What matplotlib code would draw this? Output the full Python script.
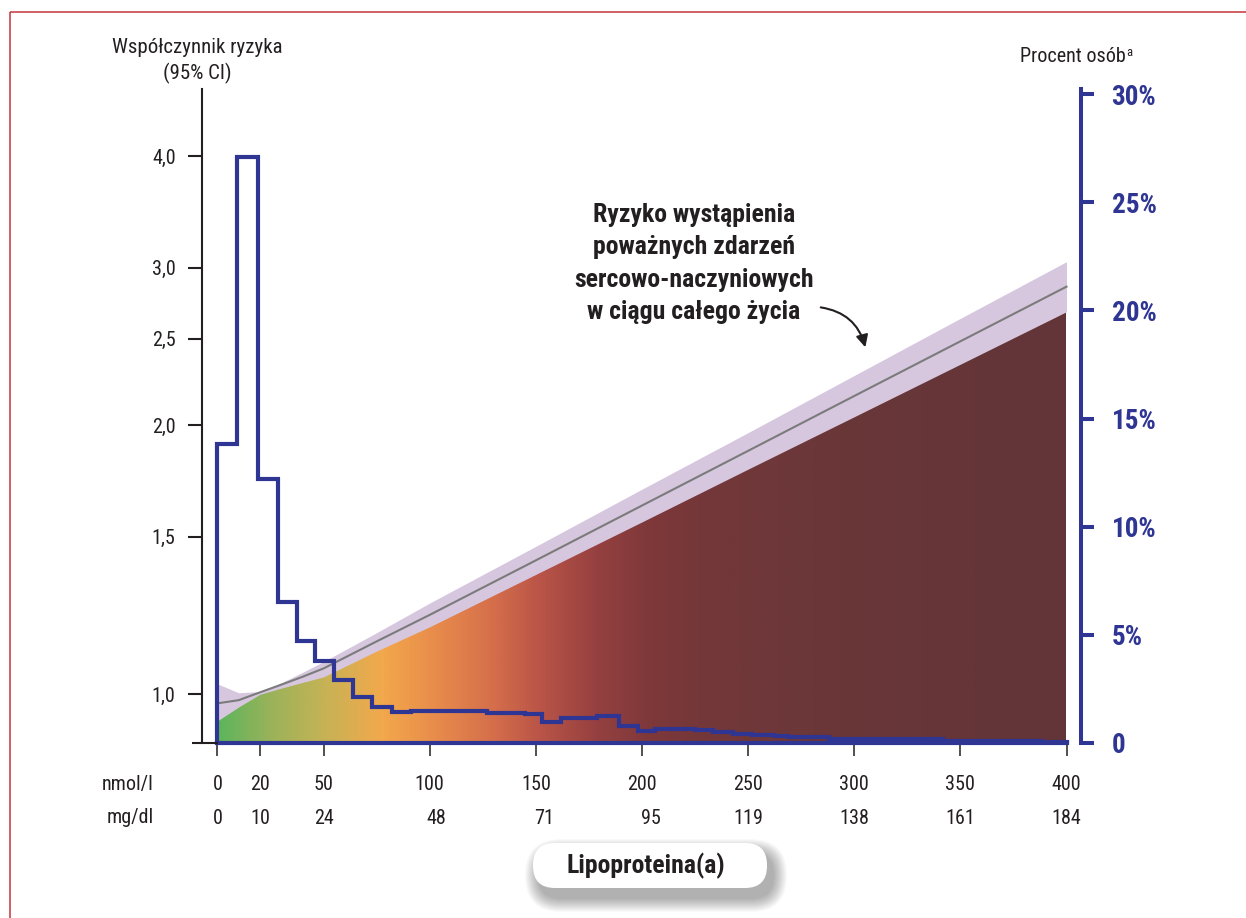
import numpy as np
import matplotlib
matplotlib.use('Agg')
import matplotlib.pyplot as plt
from matplotlib.colors import LinearSegmentedColormap
from matplotlib.patches import FancyBboxPatch, FancyArrowPatch, Rectangle
from matplotlib.ticker import NullLocator
from matplotlib.transforms import blended_transform_factory

plt.rcParams['font.family'] = ['Roboto Condensed', 'Liberation Sans', 'DejaVu Sans']

# ---------------- data ----------------
hist_edges = [0, 9, 19, 28.5, 37.5, 46, 55, 64, 73, 82, 91, 127, 145, 153, 162,
              179, 189, 198, 206, 225, 233.5, 243, 252, 262, 269, 288, 299, 342, 388, 400]
hist_pct = [13.8, 27.1, 12.2, 6.5, 4.7, 3.8, 2.9, 2.1, 1.67, 1.44, 1.45, 1.39, 1.33, 0.98,
            1.14, 1.23, 0.77, 0.54, 0.62, 0.57, 0.49, 0.42, 0.35, 0.30, 0.25, 0.19, 0.18, 0.07, 0.02]

hr_x = [0, 10, 20, 30, 40, 50, 75, 100, 150, 200, 250, 300, 350, 400]
hr_mid = [0.977, 0.985, 1.005, 1.025, 1.046, 1.069, 1.146, 1.227, 1.412, 1.626, 1.872, 2.156, 2.482, 2.857]
hr_upper = [1.027, 1.004, 1.007, 1.030, 1.058, 1.088, 1.172, 1.265, 1.464, 1.696, 1.962, 2.273, 2.633, 3.047]
hr_lower = [0.934, 0.968, 1.000, 1.016, 1.031, 1.046, 1.118, 1.190, 1.362, 1.559, 1.786, 2.044, 2.340, 2.679]

hr_ticks = [1.0, 1.5, 2.0, 2.5, 3.0, 4.0]
hr_tick_labels = ['1,0', '1,5', '2,0', '2,5', '3,0', '4,0']
pct_ticks = [0, 5, 10, 15, 20, 25, 30]
pct_tick_labels = ['0', '5%', '10%', '15%', '20%', '25%', '30%']
nmol_ticks = [0, 20, 50, 100, 150, 200, 250, 300, 350, 400]
mgdl_labels = ['0', '10', '24', '48', '71', '95', '119', '138', '161', '184']

grad_pos = [0, 25, 51, 77, 102, 128, 153, 179, 204, 230, 281, 383, 400]
grad_col = ['#5db55c', '#9cb25a', '#c8b255', '#f3a84c', '#e88c4b', '#d6704b', '#b85348',
            '#954040', '#7e383a', '#743739', '#6b3739', '#633538', '#633538']

annot_lines = ['Ryzyko wystąpienia', 'poważnych zdarzeń', 'sercowo-naczyniowych', 'w ciągu całego życia']

# ---------------- layout / style ----------------
W, H = 1246, 918
dark = '#231f20'
blue = '#2e3592'
band_col = '#d6c7df'
mg_shift = [0, 0, 0, 3, 4, 4, 0, 0, 0, 0]

fig = plt.figure(figsize=(W / 100, H / 100), dpi=100)
fig.patch.set_facecolor('white')


def ax_rect(l, t, r, b):
    return [l / W, 1 - b / H, (r - l) / W, (b - t) / H]


ax = fig.add_axes(ax_rect(202, 89, 1081, 742.7))
ax.patch.set_visible(False)
ax.set_yscale('log')
x_per_px = 400 / (1066.5 - 217.5)
xlim = ((202 - 217.5) * x_per_px, (1081 - 217.5) * x_per_px)
ylim = (np.exp(-(742.7 - 694.3) / 388.3), np.exp((694.3 - 89) / 388.3))
ax.set_xlim(*xlim)
ax.set_ylim(*ylim)

# gradient fill below lower CI bound
poly = ax.fill_between(hr_x, ylim[0], hr_lower, facecolor='none', edgecolor='none', lw=0)
cmap = LinearSegmentedColormap.from_list('lpa', list(zip(np.array(grad_pos) / 400.0, grad_col)))
grad = np.linspace(0, 1, 1000).reshape(1, -1)
im = ax.imshow(grad, extent=[0, 400, ylim[0], 3.3], aspect='auto', cmap=cmap,
               origin='lower', interpolation='bilinear', zorder=1)
im.set_clip_path(poly.get_paths()[0], transform=ax.transData)

ax.fill_between(hr_x, hr_lower, hr_upper, color=band_col, lw=0, zorder=2)
ax.plot(hr_x, hr_mid, color='#7b7b7b', lw=1.5, zorder=3)

ax.set_xlim(*xlim)
ax.set_ylim(*ylim)

for s in ['top', 'right', 'bottom']:
    ax.spines[s].set_visible(False)
ax.spines['left'].set_color(dark)
ax.spines['left'].set_linewidth(1.5)
ax.set_yticks(hr_ticks, hr_tick_labels)
ax.yaxis.set_minor_locator(NullLocator())
ax.tick_params(axis='y', direction='out', length=10, width=1.5, color=dark,
               labelcolor=dark, labelsize=14.5, pad=9)
ax.set_xticks(nmol_ticks)
ax.set_xticklabels([])
ax.tick_params(axis='x', direction='out', length=9, width=1.1, color=dark)

# histogram on right axis
ax2 = ax.twinx()
ax2.set_ylim(0, (742.7 - 89) / 21.61)
ax2.stairs(hist_pct, hist_edges, baseline=0, fill=False, color=blue, lw=3,
           joinstyle='miter', clip_on=False, zorder=5)
ax2.plot([hist_edges[0], hist_edges[-1]], [0, 0], color=blue, lw=3, clip_on=False,
         solid_capstyle='projecting', zorder=5)
for s in ['top', 'left', 'bottom']:
    ax2.spines[s].set_visible(False)
ax2.spines['right'].set_color(blue)
ax2.spines['right'].set_linewidth(2.9)
ax2.set_yticks(pct_ticks, pct_tick_labels)
ax2.tick_params(axis='y', direction='out', length=9, width=2.9, color=blue,
                labelcolor=blue, labelsize=19.5, pad=13)
for lbl in ax2.get_yticklabels():
    lbl.set_fontweight('bold')
ax2.set_xlim(*xlim)

# ---------------- overlay in pixel coordinates ----------------
bg = fig.add_axes([0, 0, 1, 1])
bg.set_xlim(0, W)
bg.set_ylim(H, 0)
bg.axis('off')

bg.add_patch(Rectangle((10, 12), W + 40, H + 40, fill=False, ec='#c4363c', lw=1.1))
bg.plot([191.5, 218], [742.7, 742.7], color=dark, lw=1.5, solid_capstyle='butt')

bg.text(197, 53.3, 'Współczynnik ryzyka', ha='center', va='baseline', fontsize=15, color=dark)
bg.text(197, 79, '(95% CI)', ha='center', va='baseline', fontsize=15, color=dark)
t_proc = bg.text(1020, 62, 'Procent osób', ha='left', va='baseline', fontsize=14.5, color=dark)
bg.annotate('a', xy=(1, 1), xycoords=t_proc, xytext=(0.5, 0.5), textcoords='offset points',
            ha='left', va='top', fontsize=9, color=dark)

trans = blended_transform_factory(ax.transData, bg.transData)
for xv in nmol_ticks:
    bg.text(xv, 790, str(xv), transform=trans, ha='center', va='baseline', fontsize=14.5, color=dark)
for xv, lab, sh in zip(nmol_ticks, mgdl_labels, mg_shift):
    bg.text(xv + sh, 824, lab, transform=trans, ha='center', va='baseline', fontsize=14.5, color=dark)
bg.text(128, 790, 'nmol/l', ha='center', va='baseline', fontsize=14.5, color=dark)
bg.text(130, 823, 'mg/dl', ha='center', va='baseline', fontsize=14.5, color=dark)

for line, yb in zip(annot_lines, [221.7, 254.3, 286.8, 319.3]):
    bg.text(694, yb, line, ha='center', va='baseline', fontsize=18.5, fontweight='bold', color=dark)

bg.add_patch(FancyArrowPatch((818, 307), (866, 350), connectionstyle='arc3,rad=-0.35',
                             arrowstyle='-|>', mutation_scale=18, lw=1.5, color=dark))

# Lipoproteina(a) pill with soft shadow
bx0, by0, bw, bh, rr = 533, 843, 234, 45, 22
for k in range(1, 15):
    e = k * 1.0
    bg.add_patch(FancyBboxPatch((bx0 + 6 - e, by0 + 10 - e), bw + 2 * e, bh + 2 * e,
                                boxstyle=f'round,pad=0,rounding_size={rr + e}',
                                fc='black', ec='none', alpha=0.022))
bg.add_patch(FancyBboxPatch((bx0, by0), bw, bh, boxstyle=f'round,pad=0,rounding_size={rr}',
                            fc='white', ec='none'))
bg.text(646, 873, 'Lipoproteina(a)', ha='center', va='baseline', fontsize=18.5,
        fontweight='bold', color=dark)

fig.savefig('out.png', dpi=100, facecolor='white')
